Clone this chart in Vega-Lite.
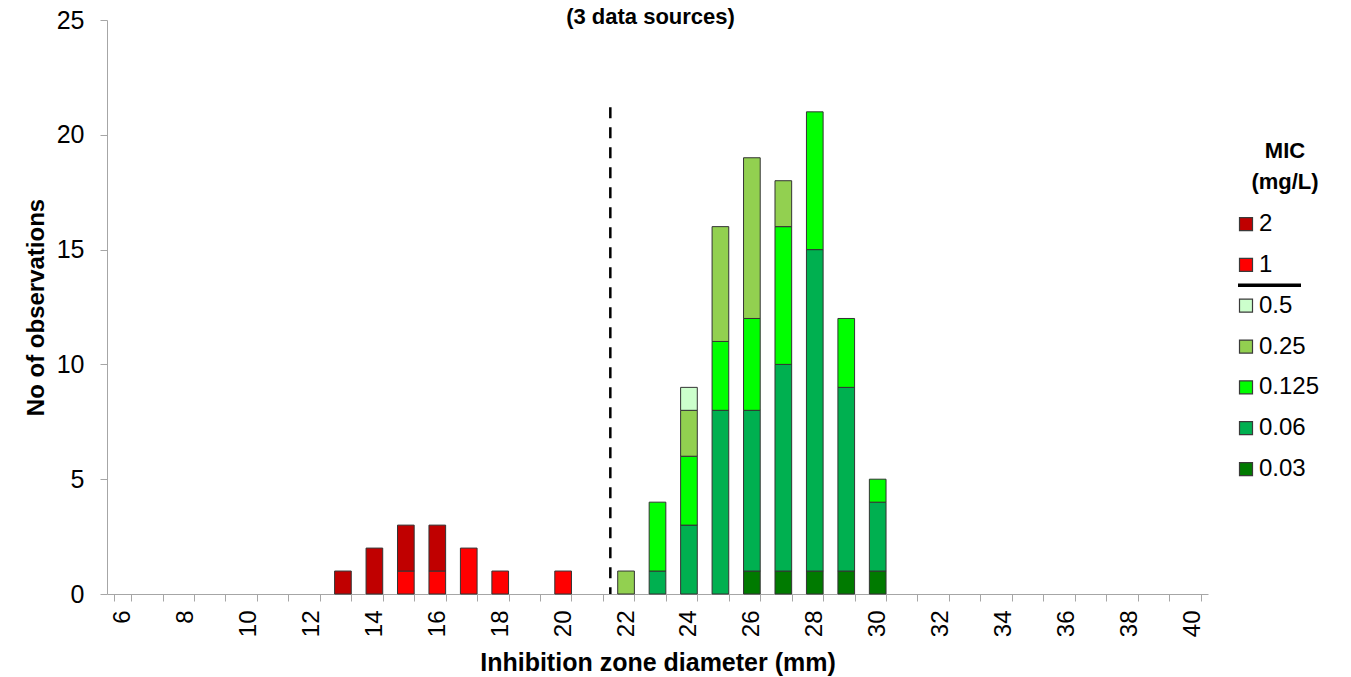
{
  "$schema": "https://vega.github.io/schema/vega-lite/v6.json",
  "background": "white",
  "padding": {"left": 24, "top": 6, "right": 0, "bottom": 0},
  "bounds": "flush",
  "center": true,
  "spacing": 30,
  "config": {"font": "Liberation Sans", "view": {"stroke": null}},
  "resolve": {"scale": {"x": "independent", "y": "independent", "color": "shared"}},
  "datasets": {
    "obs": [
      {"diameter": 13, "mic": "2", "mic_value": 2, "count": 1},
      {"diameter": 14, "mic": "2", "mic_value": 2, "count": 2},
      {"diameter": 15, "mic": "1", "mic_value": 1, "count": 1},
      {"diameter": 15, "mic": "2", "mic_value": 2, "count": 2},
      {"diameter": 16, "mic": "1", "mic_value": 1, "count": 1},
      {"diameter": 16, "mic": "2", "mic_value": 2, "count": 2},
      {"diameter": 17, "mic": "1", "mic_value": 1, "count": 2},
      {"diameter": 18, "mic": "1", "mic_value": 1, "count": 1},
      {"diameter": 20, "mic": "1", "mic_value": 1, "count": 1},
      {"diameter": 22, "mic": "0.25", "mic_value": 0.25, "count": 1},
      {"diameter": 23, "mic": "0.06", "mic_value": 0.06, "count": 1},
      {"diameter": 23, "mic": "0.125", "mic_value": 0.125, "count": 3},
      {"diameter": 24, "mic": "0.06", "mic_value": 0.06, "count": 3},
      {"diameter": 24, "mic": "0.125", "mic_value": 0.125, "count": 3},
      {"diameter": 24, "mic": "0.25", "mic_value": 0.25, "count": 2},
      {"diameter": 24, "mic": "0.5", "mic_value": 0.5, "count": 1},
      {"diameter": 25, "mic": "0.06", "mic_value": 0.06, "count": 8},
      {"diameter": 25, "mic": "0.125", "mic_value": 0.125, "count": 3},
      {"diameter": 25, "mic": "0.25", "mic_value": 0.25, "count": 5},
      {"diameter": 26, "mic": "0.03", "mic_value": 0.03, "count": 1},
      {"diameter": 26, "mic": "0.06", "mic_value": 0.06, "count": 7},
      {"diameter": 26, "mic": "0.125", "mic_value": 0.125, "count": 4},
      {"diameter": 26, "mic": "0.25", "mic_value": 0.25, "count": 7},
      {"diameter": 27, "mic": "0.03", "mic_value": 0.03, "count": 1},
      {"diameter": 27, "mic": "0.06", "mic_value": 0.06, "count": 9},
      {"diameter": 27, "mic": "0.125", "mic_value": 0.125, "count": 6},
      {"diameter": 27, "mic": "0.25", "mic_value": 0.25, "count": 2},
      {"diameter": 28, "mic": "0.03", "mic_value": 0.03, "count": 1},
      {"diameter": 28, "mic": "0.06", "mic_value": 0.06, "count": 14},
      {"diameter": 28, "mic": "0.125", "mic_value": 0.125, "count": 6},
      {"diameter": 29, "mic": "0.03", "mic_value": 0.03, "count": 1},
      {"diameter": 29, "mic": "0.06", "mic_value": 0.06, "count": 8},
      {"diameter": 29, "mic": "0.125", "mic_value": 0.125, "count": 3},
      {"diameter": 30, "mic": "0.03", "mic_value": 0.03, "count": 1},
      {"diameter": 30, "mic": "0.06", "mic_value": 0.06, "count": 3},
      {"diameter": 30, "mic": "0.125", "mic_value": 0.125, "count": 1}
    ],
    "breakpoint": [{"diameter": 22, "top": 21.2}],
    "legend": [
      {"mic": "2"}, {"mic": "1"}, {"mic": "0.5"}, {"mic": "0.25"},
      {"mic": "0.125"}, {"mic": "0.06"}, {"mic": "0.03"}
    ],
    "separator": [{"mic": "1"}]
  },
  "hconcat": [
    {
      "width": 1101,
      "height": 574,
      "title": {"text": "(3 data sources)", "fontSize": 22, "fontWeight": "bold", "anchor": "middle", "frame": "group", "offset": -21, "dx": -7, "color": "black"},
      "layer": [
        {
          "data": {"name": "obs"},
          "mark": {"type": "bar", "stroke": "#333333", "strokeWidth": 1},
          "encoding": {
            "x": {
              "field": "diameter", "type": "ordinal",
              "scale": {"domain": [6,7,8,9,10,11,12,13,14,15,16,17,18,19,20,21,22,23,24,25,26,27,28,29,30,31,32,33,34,35,36,37,38,39,40], "paddingInner": 0.47, "paddingOuter": 0.235},
              "axis": {
                "title": "Inhibition zone diameter (mm)", "titleFontSize": 25, "titleFontWeight": "bold", "titleColor": "black", "titlePadding": 14,
                "labelAngle": -90, "labelFontSize": 24, "labelColor": "black", "labelPadding": 9, "labelOverlap": false,
                "labelExpr": "datum.value % 2 == 0 ? datum.label : ''",
                "tickBand": "extent", "tickSize": 7, "tickColor": "#a6a6a6", "domainColor": "#a6a6a6"
              }
            },
            "y": {
              "field": "count", "type": "quantitative", "stack": "zero",
              "scale": {"domain": [0, 25], "nice": false},
              "axis": {
                "title": "No of observations", "titleFontSize": 24, "titleFontWeight": "bold", "titleColor": "black", "titlePadding": 8,
                "values": [0, 5, 10, 15, 20, 25], "grid": false, "tickSize": 7, "labelFontSize": 25, "labelColor": "black", "labelPadding": 16,
                "tickColor": "#a6a6a6", "domainColor": "#a6a6a6"
              }
            },
            "color": {
              "field": "mic", "type": "nominal",
              "scale": {"domain": ["2", "1", "0.5", "0.25", "0.125", "0.06", "0.03"], "range": ["#C00000", "#FF0000", "#CCFFCC", "#92D050", "#00FF00", "#00B050", "#007A00"]},
              "legend": null
            },
            "order": {"field": "mic_value", "type": "quantitative", "sort": "ascending"}
          }
        },
        {
          "data": {"name": "breakpoint"},
          "mark": {"type": "rule", "color": "black", "strokeWidth": 2.5, "strokeDash": [11, 9]},
          "encoding": {
            "x": {"field": "diameter", "type": "ordinal", "bandPosition": -0.443},
            "y": {"field": "top", "type": "quantitative"},
            "y2": {"datum": 0}
          }
        }
      ]
    },
    {
      "width": 63,
      "height": 367.5,
      "title": {"text": ["MIC", "(mg/L)"], "fontSize": 22, "fontWeight": "bold", "anchor": "middle", "frame": "group", "offset": -71, "dx": 15.5, "lineHeight": 31, "color": "black"},
      "layer": [
        {
          "data": {"name": "legend"},
          "mark": {"type": "square", "size": 169, "filled": true, "opacity": 1, "stroke": "#3a3a3a", "strokeWidth": 1.2},
          "encoding": {
            "x": {"datum": "swatch", "type": "nominal", "scale": {"type": "point", "domain": ["swatch"], "padding": 0.5, "align": 0.127}, "axis": null},
            "y": {"field": "mic", "type": "nominal", "scale": {"type": "band", "domain": ["2", "1", "0.5", "0.25", "0.125", "0.06", "0.03"], "paddingInner": 0, "paddingOuter": 1, "align": 0.984}, "axis": null},
            "color": {"field": "mic", "type": "nominal", "legend": null}
          }
        },
        {
          "data": {"name": "legend"},
          "mark": {"type": "text", "align": "left", "baseline": "middle", "fontSize": 24, "color": "black", "dx": 13},
          "encoding": {
            "x": {"datum": "swatch", "type": "nominal", "axis": null},
            "y": {"field": "mic", "type": "nominal", "axis": null},
            "text": {"field": "mic"}
          }
        },
        {
          "data": {"name": "separator"},
          "mark": {"type": "rule", "color": "black", "strokeWidth": 3.5},
          "encoding": {
            "y": {"field": "mic", "type": "nominal", "bandPosition": 1, "axis": null}
          }
        }
      ]
    }
  ]
}
